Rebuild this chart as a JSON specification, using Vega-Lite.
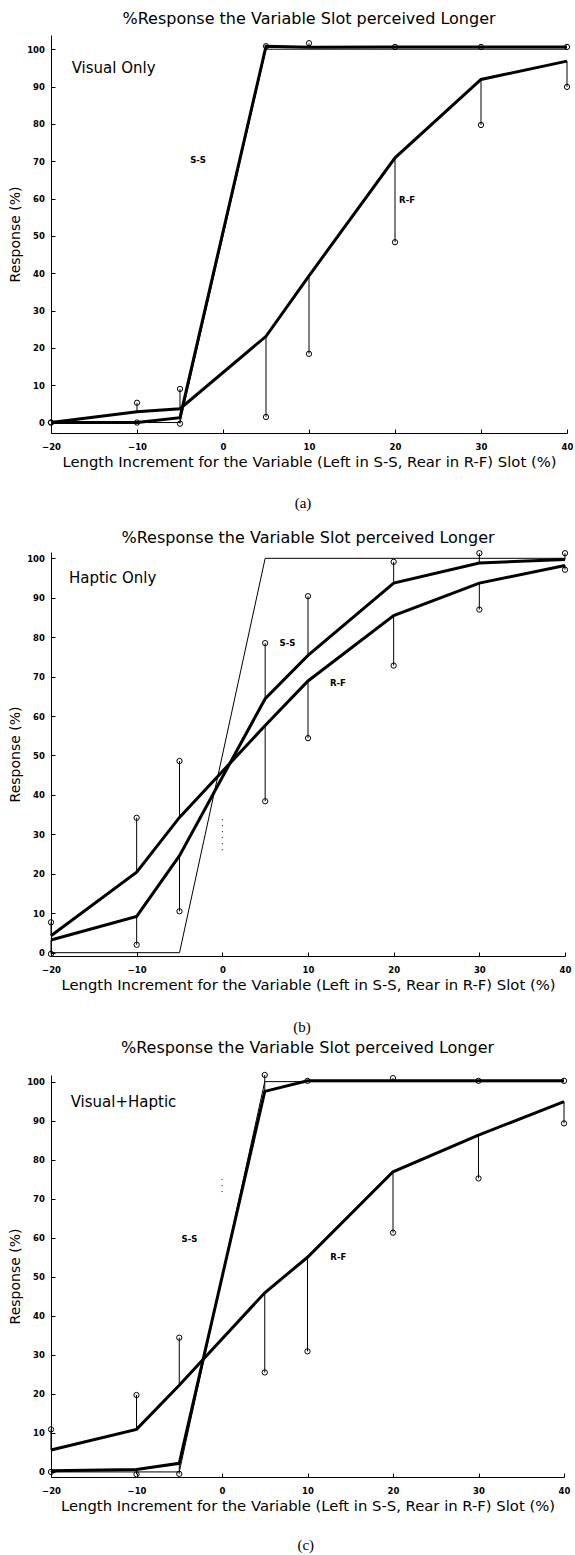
{
  "$schema": "https://vega.github.io/schema/vega-lite/v6.json",
  "padding": {"left": 8, "top": 11, "right": 0, "bottom": 0},
  "background": "white",
  "spacing": 119,
  "bounds": "flush",
  "datasets": {
    "d": [
      {"p": "a", "s": "S-S", "x": -20, "fit": 0, "obs": 0},
      {"p": "a", "s": "S-S", "x": -10, "fit": 0, "obs": 0},
      {"p": "a", "s": "S-S", "x": -5, "fit": 1.3, "obs": -0.3},
      {"p": "a", "s": "S-S", "x": 5, "fit": 100.8, "obs": 100.8},
      {"p": "a", "s": "S-S", "x": 10, "fit": 100.5, "obs": 101.6},
      {"p": "a", "s": "S-S", "x": 20, "fit": 100.6, "obs": 100.6},
      {"p": "a", "s": "S-S", "x": 30, "fit": 100.6, "obs": 100.6},
      {"p": "a", "s": "S-S", "x": 40, "fit": 100.6, "obs": 100.6},
      {"p": "a", "s": "R-F", "x": -20, "fit": 0, "obs": 0},
      {"p": "a", "s": "R-F", "x": -10, "fit": 2.9, "obs": 5.3},
      {"p": "a", "s": "R-F", "x": -5, "fit": 3.7, "obs": 9},
      {"p": "a", "s": "R-F", "x": 5, "fit": 23.1, "obs": 1.5},
      {"p": "a", "s": "R-F", "x": 10, "fit": 39.3, "obs": 18.4},
      {"p": "a", "s": "R-F", "x": 20, "fit": 70.9, "obs": 48.3},
      {"p": "a", "s": "R-F", "x": 30, "fit": 91.9, "obs": 79.7},
      {"p": "a", "s": "R-F", "x": 40, "fit": 96.8, "obs": 89.9},
      {"p": "b", "s": "S-S", "x": -20, "fit": 3.2, "obs": -0.3},
      {"p": "b", "s": "S-S", "x": -10, "fit": 9.2, "obs": 2},
      {"p": "b", "s": "S-S", "x": -5, "fit": 24.6, "obs": 10.5},
      {"p": "b", "s": "S-S", "x": 5, "fit": 64.4, "obs": 78.5},
      {"p": "b", "s": "S-S", "x": 10, "fit": 75.4, "obs": 90.4},
      {"p": "b", "s": "S-S", "x": 20, "fit": 93.7, "obs": 99.1},
      {"p": "b", "s": "S-S", "x": 30, "fit": 98.8, "obs": 101.3},
      {"p": "b", "s": "S-S", "x": 40, "fit": 99.7, "obs": 101.3},
      {"p": "b", "s": "R-F", "x": -20, "fit": 4.3, "obs": 7.7},
      {"p": "b", "s": "R-F", "x": -10, "fit": 20.4, "obs": 34.2},
      {"p": "b", "s": "R-F", "x": -5, "fit": 34.3, "obs": 48.6},
      {"p": "b", "s": "R-F", "x": 5, "fit": 57.6, "obs": 38.4},
      {"p": "b", "s": "R-F", "x": 10, "fit": 68.9, "obs": 54.4},
      {"p": "b", "s": "R-F", "x": 20, "fit": 85.5, "obs": 72.8},
      {"p": "b", "s": "R-F", "x": 30, "fit": 93.7, "obs": 87},
      {"p": "b", "s": "R-F", "x": 40, "fit": 98.2, "obs": 97.1},
      {"p": "c", "s": "S-S", "x": -20, "fit": 0.3, "obs": 0},
      {"p": "c", "s": "S-S", "x": -10, "fit": 0.6, "obs": -0.6},
      {"p": "c", "s": "S-S", "x": -5, "fit": 2.2, "obs": -0.5},
      {"p": "c", "s": "S-S", "x": 5, "fit": 97.5, "obs": 101.7},
      {"p": "c", "s": "S-S", "x": 10, "fit": 100.2, "obs": 100.2},
      {"p": "c", "s": "S-S", "x": 20, "fit": 100.2, "obs": 100.9},
      {"p": "c", "s": "S-S", "x": 30, "fit": 100.2, "obs": 100.2},
      {"p": "c", "s": "S-S", "x": 40, "fit": 100.2, "obs": 100.2},
      {"p": "c", "s": "R-F", "x": -20, "fit": 5.6, "obs": 10.9},
      {"p": "c", "s": "R-F", "x": -10, "fit": 10.9, "obs": 19.7},
      {"p": "c", "s": "R-F", "x": -5, "fit": 22.2, "obs": 34.4},
      {"p": "c", "s": "R-F", "x": 5, "fit": 45.9, "obs": 25.5},
      {"p": "c", "s": "R-F", "x": 10, "fit": 55, "obs": 30.9},
      {"p": "c", "s": "R-F", "x": 20, "fit": 76.9, "obs": 61.3},
      {"p": "c", "s": "R-F", "x": 30, "fit": 86.3, "obs": 75.2},
      {"p": "c", "s": "R-F", "x": 40, "fit": 94.9, "obs": 89.3}
    ],
    "ideal": [
      {"p": "a", "x": -20, "y": 0}, {"p": "a", "x": -5, "y": 0}, {"p": "a", "x": 5, "y": 100}, {"p": "a", "x": 40, "y": 100},
      {"p": "b", "x": -20, "y": 0}, {"p": "b", "x": -5, "y": 0}, {"p": "b", "x": 5, "y": 100}, {"p": "b", "x": 40, "y": 100},
      {"p": "c", "x": -20, "y": 0}, {"p": "c", "x": -5, "y": 0}, {"p": "c", "x": 5, "y": 100}, {"p": "c", "x": 40, "y": 100}
    ],
    "lab": [
      {"p": "a", "k": "corner", "t": "Visual Only", "x": -17.6, "y": 94.9},
      {"p": "a", "k": "curve", "t": "S-S", "x": -2.9, "y": 70.4},
      {"p": "a", "k": "curve", "t": "R-F", "x": 21.4, "y": 59.6},
      {"p": "a", "k": "cap", "t": "(a)", "x": 9.3, "y": -21.5},
      {"p": "b", "k": "corner", "t": "Haptic Only", "x": -17.9, "y": 94.9},
      {"p": "b", "k": "curve", "t": "S-S", "x": 7.6, "y": 78.4},
      {"p": "b", "k": "curve", "t": "R-F", "x": 13.5, "y": 68.3},
      {"p": "b", "k": "cap", "t": "(b)", "x": 9.3, "y": -18.8},
      {"p": "c", "k": "corner", "t": "Visual+Haptic", "x": -17.7, "y": 94.8},
      {"p": "c", "k": "curve", "t": "S-S", "x": -3.8, "y": 59.8},
      {"p": "c", "k": "curve", "t": "R-F", "x": 13.6, "y": 55},
      {"p": "c", "k": "cap", "t": "(c)", "x": 9.8, "y": -18.7}
    ],
    "dash": [
      {"p": "b", "x": 0, "y": 26, "y2": 34},
      {"p": "c", "x": 0, "y": 71.7, "y2": 75}
    ]
  },
  "vconcat": [
    {
      "width": 516, "height": 398,
      "title": {"text": "%Response the Variable Slot perceived Longer", "offset": 8},
      "encoding": {"x": {"field": "x", "type": "quantitative", "scale": {"domain": [-20, 40], "nice": false, "zero": false}, "axis": {"values": [-20, -10, 0, 10, 20, 30, 40]}, "title": "Length Increment for the Variable (Left in S-S, Rear in R-F) Slot (%)"}},
      "layer": [
        {"data": {"name": "ideal"}, "transform": [{"filter": "datum.p === 'a'"}], "mark": {"type": "line", "color": "black", "strokeWidth": 1}, "encoding": {"y": {"field": "y", "type": "quantitative", "scale": {"domain": [-2.8, 103.8], "nice": false, "zero": false}, "axis": {"values": [0, 10, 20, 30, 40, 50, 60, 70, 80, 90, 100], "tickCount": 11, "labelOverlap": false}, "title": "Response (%)"}}},
        {"data": {"name": "d"}, "transform": [{"filter": "datum.p === 'a'"}], "mark": {"type": "rule", "color": "black", "strokeWidth": 1}, "encoding": {"y": {"field": "obs", "type": "quantitative", "title": "Response (%)"}, "y2": {"field": "fit"}}},
        {"data": {"name": "d"}, "transform": [{"filter": "datum.p === 'a'"}], "mark": {"type": "line", "color": "black", "strokeWidth": 3, "strokeJoin": "miter"}, "encoding": {"y": {"field": "fit", "type": "quantitative", "title": "Response (%)"}, "detail": {"field": "s"}}},
        {"data": {"name": "d"}, "transform": [{"filter": "datum.p === 'a'"}], "mark": {"type": "point", "shape": "circle", "filled": false, "size": 28, "strokeWidth": 1, "color": "black", "opacity": 1}, "encoding": {"y": {"field": "obs", "type": "quantitative", "title": "Response (%)"}}},
        {"data": {"name": "lab"}, "transform": [{"filter": "datum.p === 'a' && datum.k === 'corner'"}], "mark": {"type": "text", "align": "left", "baseline": "middle", "font": "DejaVu Sans", "fontSize": 15, "color": "black"}, "encoding": {"y": {"field": "y", "type": "quantitative", "title": "Response (%)"}, "text": {"field": "t"}}},
        {"data": {"name": "lab"}, "transform": [{"filter": "datum.p === 'a' && datum.k === 'curve'"}], "mark": {"type": "text", "align": "center", "baseline": "middle", "font": "DejaVu Sans", "fontSize": 8.5, "fontWeight": "bold", "color": "black"}, "encoding": {"y": {"field": "y", "type": "quantitative", "title": "Response (%)"}, "text": {"field": "t"}}},
        {"data": {"name": "lab"}, "transform": [{"filter": "datum.p === 'a' && datum.k === 'cap'"}], "mark": {"type": "text", "align": "center", "baseline": "middle", "font": "Liberation Serif", "fontSize": 15, "color": "black"}, "encoding": {"y": {"field": "y", "type": "quantitative", "title": "Response (%)"}, "text": {"field": "t"}}}
      ]
    },
    {
      "width": 514, "height": 404,
      "title": {"text": "%Response the Variable Slot perceived Longer", "offset": 3},
      "encoding": {"x": {"field": "x", "type": "quantitative", "scale": {"domain": [-20, 40], "nice": false, "zero": false}, "axis": {"values": [-20, -10, 0, 10, 20, 30, 40]}, "title": "Length Increment for the Variable (Left in S-S, Rear in R-F) Slot (%)"}},
      "layer": [
        {"data": {"name": "ideal"}, "transform": [{"filter": "datum.p === 'b'"}], "mark": {"type": "line", "color": "black", "strokeWidth": 1}, "encoding": {"y": {"field": "y", "type": "quantitative", "scale": {"domain": [-0.84, 101.6], "nice": false, "zero": false}, "axis": {"values": [0, 10, 20, 30, 40, 50, 60, 70, 80, 90, 100], "tickCount": 11, "labelOverlap": false}, "title": "Response (%)"}}},
        {"data": {"name": "dash"}, "transform": [{"filter": "datum.p === 'b'"}], "mark": {"type": "rule", "color": "black", "strokeWidth": 1, "strokeDash": [1, 5]}, "encoding": {"y": {"field": "y", "type": "quantitative", "title": "Response (%)"}, "y2": {"field": "y2"}}},
        {"data": {"name": "d"}, "transform": [{"filter": "datum.p === 'b'"}], "mark": {"type": "rule", "color": "black", "strokeWidth": 1}, "encoding": {"y": {"field": "obs", "type": "quantitative", "title": "Response (%)"}, "y2": {"field": "fit"}}},
        {"data": {"name": "d"}, "transform": [{"filter": "datum.p === 'b'"}], "mark": {"type": "line", "color": "black", "strokeWidth": 3, "strokeJoin": "miter"}, "encoding": {"y": {"field": "fit", "type": "quantitative", "title": "Response (%)"}, "detail": {"field": "s"}}},
        {"data": {"name": "d"}, "transform": [{"filter": "datum.p === 'b'"}], "mark": {"type": "point", "shape": "circle", "filled": false, "size": 28, "strokeWidth": 1, "color": "black", "opacity": 1}, "encoding": {"y": {"field": "obs", "type": "quantitative", "title": "Response (%)"}}},
        {"data": {"name": "lab"}, "transform": [{"filter": "datum.p === 'b' && datum.k === 'corner'"}], "mark": {"type": "text", "align": "left", "baseline": "middle", "font": "DejaVu Sans", "fontSize": 15, "color": "black"}, "encoding": {"y": {"field": "y", "type": "quantitative", "title": "Response (%)"}, "text": {"field": "t"}}},
        {"data": {"name": "lab"}, "transform": [{"filter": "datum.p === 'b' && datum.k === 'curve'"}], "mark": {"type": "text", "align": "center", "baseline": "middle", "font": "DejaVu Sans", "fontSize": 8.5, "fontWeight": "bold", "color": "black"}, "encoding": {"y": {"field": "y", "type": "quantitative", "title": "Response (%)"}, "text": {"field": "t"}}},
        {"data": {"name": "lab"}, "transform": [{"filter": "datum.p === 'b' && datum.k === 'cap'"}], "mark": {"type": "text", "align": "center", "baseline": "middle", "font": "Liberation Serif", "fontSize": 15, "color": "black"}, "encoding": {"y": {"field": "y", "type": "quantitative", "title": "Response (%)"}, "text": {"field": "t"}}}
      ]
    },
    {
      "width": 513, "height": 402,
      "title": {"text": "%Response the Variable Slot perceived Longer", "offset": 14},
      "encoding": {"x": {"field": "x", "type": "quantitative", "scale": {"domain": [-20, 40], "nice": false, "zero": false}, "axis": {"values": [-20, -10, 0, 10, 20, 30, 40]}, "title": "Length Increment for the Variable (Left in S-S, Rear in R-F) Slot (%)"}},
      "layer": [
        {"data": {"name": "ideal"}, "transform": [{"filter": "datum.p === 'c'"}], "mark": {"type": "line", "color": "black", "strokeWidth": 1}, "encoding": {"y": {"field": "y", "type": "quantitative", "scale": {"domain": [-1.3, 101.7], "nice": false, "zero": false}, "axis": {"values": [0, 10, 20, 30, 40, 50, 60, 70, 80, 90, 100], "tickCount": 11, "labelOverlap": false}, "title": "Response (%)"}}},
        {"data": {"name": "dash"}, "transform": [{"filter": "datum.p === 'c'"}], "mark": {"type": "rule", "color": "black", "strokeWidth": 1, "strokeDash": [1, 5]}, "encoding": {"y": {"field": "y", "type": "quantitative", "title": "Response (%)"}, "y2": {"field": "y2"}}},
        {"data": {"name": "d"}, "transform": [{"filter": "datum.p === 'c'"}], "mark": {"type": "rule", "color": "black", "strokeWidth": 1}, "encoding": {"y": {"field": "obs", "type": "quantitative", "title": "Response (%)"}, "y2": {"field": "fit"}}},
        {"data": {"name": "d"}, "transform": [{"filter": "datum.p === 'c'"}], "mark": {"type": "line", "color": "black", "strokeWidth": 3, "strokeJoin": "miter"}, "encoding": {"y": {"field": "fit", "type": "quantitative", "title": "Response (%)"}, "detail": {"field": "s"}}},
        {"data": {"name": "d"}, "transform": [{"filter": "datum.p === 'c'"}], "mark": {"type": "point", "shape": "circle", "filled": false, "size": 28, "strokeWidth": 1, "color": "black", "opacity": 1}, "encoding": {"y": {"field": "obs", "type": "quantitative", "title": "Response (%)"}}},
        {"data": {"name": "lab"}, "transform": [{"filter": "datum.p === 'c' && datum.k === 'corner'"}], "mark": {"type": "text", "align": "left", "baseline": "middle", "font": "DejaVu Sans", "fontSize": 15, "color": "black"}, "encoding": {"y": {"field": "y", "type": "quantitative", "title": "Response (%)"}, "text": {"field": "t"}}},
        {"data": {"name": "lab"}, "transform": [{"filter": "datum.p === 'c' && datum.k === 'curve'"}], "mark": {"type": "text", "align": "center", "baseline": "middle", "font": "DejaVu Sans", "fontSize": 8.5, "fontWeight": "bold", "color": "black"}, "encoding": {"y": {"field": "y", "type": "quantitative", "title": "Response (%)"}, "text": {"field": "t"}}},
        {"data": {"name": "lab"}, "transform": [{"filter": "datum.p === 'c' && datum.k === 'cap'"}], "mark": {"type": "text", "align": "center", "baseline": "middle", "font": "Liberation Serif", "fontSize": 15, "color": "black"}, "encoding": {"y": {"field": "y", "type": "quantitative", "title": "Response (%)"}, "text": {"field": "t"}}}
      ]
    }
  ],
  "config": {
    "view": {"stroke": null},
    "font": "DejaVu Sans",
    "axis": {"grid": false, "domainColor": "black", "domainWidth": 1, "tickColor": "black", "tickWidth": 1, "tickSize": -4, "labelColor": "black", "labelFont": "DejaVu Sans", "labelFontSize": 8.5, "labelFontWeight": "bold", "labelFlush": false, "labelOverlap": false, "titleColor": "black", "titleFont": "DejaVu Sans", "titleFontWeight": "normal"},
    "axisX": {"labelPadding": 13.5, "titleFontSize": 14.8, "titlePadding": 3},
    "axisY": {"labelPadding": 10.6, "titleFontSize": 14, "titlePadding": 4},
    "title": {"font": "DejaVu Sans", "fontSize": 16, "fontWeight": "normal", "color": "black"},
    "text": {"color": "black"}
  }
}
